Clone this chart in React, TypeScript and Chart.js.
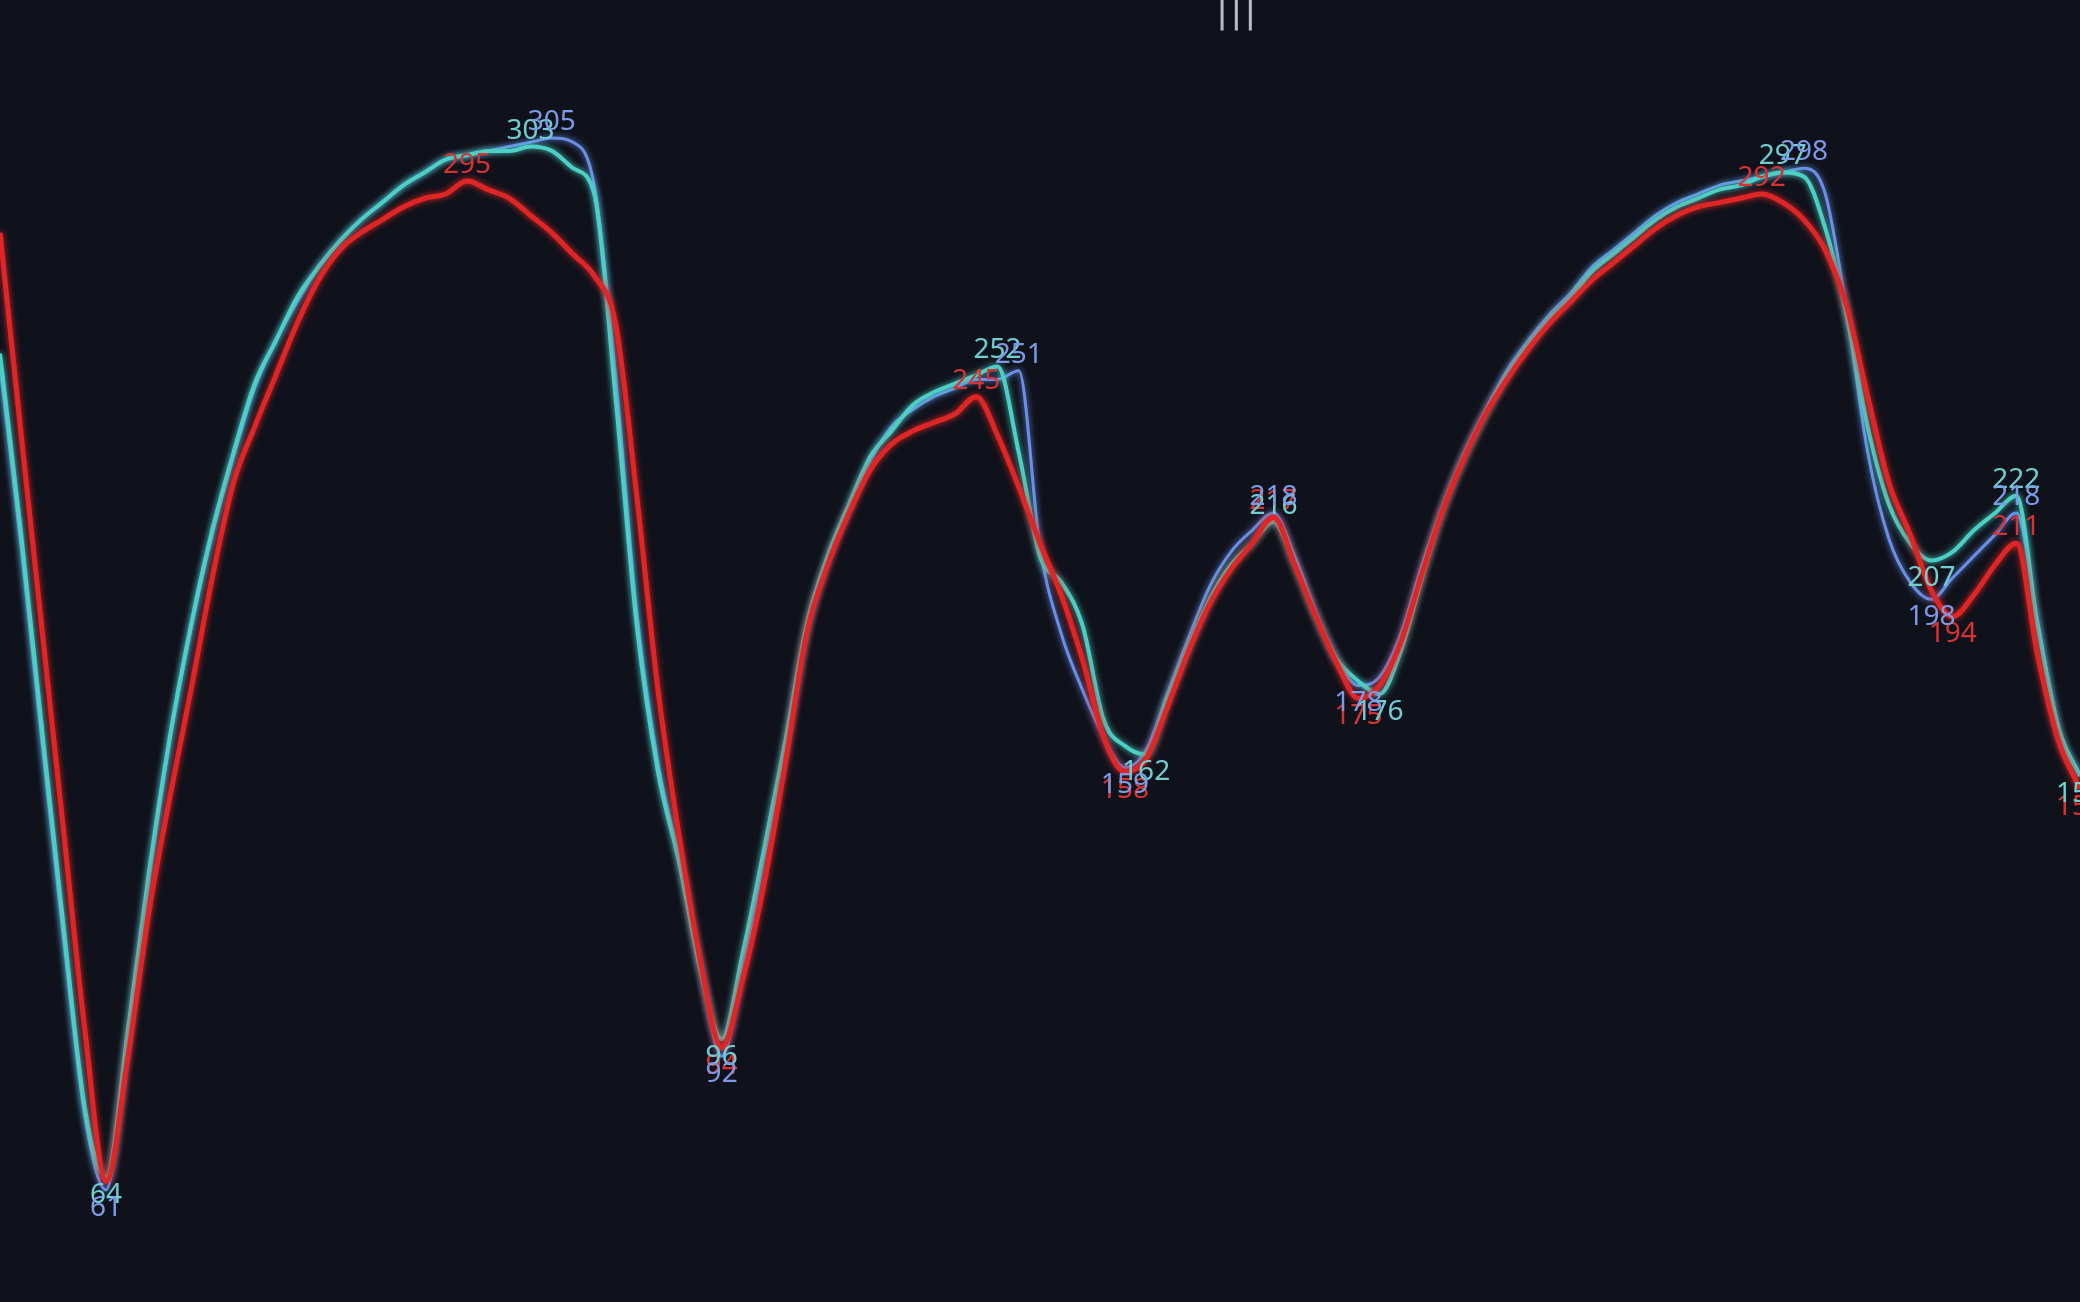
import React, { useEffect, useRef } from "react";
import { Chart, registerables } from "chart.js";

Chart.register(...registerables);

// sample index (time steps)
const steps: string[] = [
  "0","1","2","3","4","5","6","7","8","9","10","11","12","13","14","15","16","17","18","19",
  "20","21","22","23","24","25","26","27","28","29","30","31","32","33","34","35","36","37","38","39",
  "40","41","42","43","44","45","46","47","48","49","50","51","52","53","54","55","56","57","58","59",
  "60","61","62","63","64","65","66","67","68","69","70","71","72","73","74","75","76","77","78","79",
  "80","81","82","83","84","85","86","87","88","89","90","91","92","93","94","95","96","97","98",
];

const tealValues: number[] = [
  255, 213, 167, 122, 80, 64, 97, 134, 166, 192,
  214, 232, 248, 258, 268, 275, 281, 286, 290, 294,
  297, 300, 301, 302, 302, 303, 302, 298, 292, 245,
  192, 158, 137, 112, 96, 116, 140, 165, 192, 208,
  220, 231, 237, 243, 246, 248, 250, 252, 232, 208,
  202, 192, 170, 164, 162, 175, 187, 198, 206, 211,
  216, 206, 194, 184, 179, 176, 186, 203, 219, 231,
  241, 250, 257, 263, 268, 274, 278, 282, 286, 289,
  291, 293, 294, 296, 297, 296, 284, 264, 238, 220,
  211, 207, 209, 214, 218, 222, 192, 168, 157,
];

const blueValues: number[] = [
  252, 210, 164, 119, 78, 61, 95, 132, 165, 191,
  213, 231, 247, 258, 267, 275, 281, 286, 290, 294,
  297, 300, 301, 302, 303, 304, 305, 304, 294, 250,
  195, 160, 138, 113, 92, 112, 138, 163, 190, 207,
  219, 230, 238, 242, 245, 247, 249, 249, 251, 210,
  190, 177, 166, 159, 163, 176, 189, 201, 209, 214,
  218, 208, 195, 184, 178, 180, 190, 206, 220, 232,
  242, 251, 258, 264, 269, 275, 279, 283, 287, 290,
  292, 294, 295, 296, 297, 298, 292, 265, 232, 212,
  202, 198, 203, 208, 213, 218, 193, 167, 157,
];

const redValues: number[] = [
  283, 236, 190, 144, 98, 63, 91, 125, 152, 177,
  203, 225, 238, 250, 262, 272, 279, 283, 286, 289,
  291, 292, 295, 293, 291, 287, 283, 278, 273, 262,
  222, 177, 143, 114, 94, 110, 132, 160, 190, 206,
  218, 228, 234, 237, 239, 241, 245, 236, 224, 211,
  199, 184, 166, 158, 161, 173, 186, 197, 205, 211,
  217, 206, 194, 183, 175, 178, 188, 204, 219, 231,
  241, 249, 256, 262, 267, 272, 276, 280, 284, 287,
  289, 290, 291, 292, 290, 286, 279, 266, 245, 225,
  213, 200, 194, 199, 206, 211, 185, 165, 154,
];

// which samples carry a value label (peaks and troughs)
const tealLabelIdx: number[] = [5, 25, 34, 47, 54, 60, 65, 84, 91, 95, 98];
const blueLabelIdx: number[] = [5, 26, 34, 48, 53, 60, 64, 85, 91, 95];
const redLabelIdx: number[] = [22, 34, 46, 53, 60, 64, 83, 92, 95, 98];

const seriesNames: string[] = ["red", "teal", "blue"];

const labelPlugin = {
  id: "extremaLabels",
  afterDatasetsDraw(chart: any) {
    const ctx = chart.ctx;
    chart.data.datasets.forEach((ds: any, di: number) => {
      const meta = chart.getDatasetMeta(di);
      const idxs: number[] = ds.labelIdx || [];
      ctx.save();
      ctx.font = '28px "Noto Sans", "DejaVu Sans", sans-serif';
      ctx.fillStyle = ds.labelColor;
      ctx.textAlign = "center";
      idxs.forEach((i) => {
        const pt = meta.data[i];
        if (!pt) return;
        const v = ds.data[i];
        const prev = i > 0 ? ds.data[i - 1] : v;
        const next = i < ds.data.length - 1 ? ds.data[i + 1] : v;
        const isMax = v >= prev && v >= next;
        if (isMax) {
          ctx.textBaseline = "bottom";
          ctx.fillText(String(v), pt.x, pt.y - 2);
        } else {
          ctx.textBaseline = "top";
          ctx.fillText(String(v), pt.x, pt.y + 4);
        }
      });
      ctx.restore();
    });
  },
};

const glowPlugin = {
  id: "glow",
  beforeDatasetDraw(chart: any, args: any) {
    const ds = chart.data.datasets[args.index];
    chart.ctx.save();
    chart.ctx.shadowColor = ds.borderColor;
    chart.ctx.shadowBlur = 6;
  },
  afterDatasetDraw(chart: any) {
    chart.ctx.restore();
  },
};

export default function App() {
  const ref = useRef<HTMLCanvasElement | null>(null);

  useEffect(() => {
    document.body.style.margin = "0";
    document.body.style.background = "#10121b";
    const canvas = ref.current;
    if (!canvas) return;
    const chart = new Chart(canvas, {
      type: "line",
      data: {
        labels: steps,
        datasets: [
          {
            label: seriesNames[0],
            data: redValues,
            borderColor: "#df2626",
            borderWidth: 5,
            pointRadius: 0,
            cubicInterpolationMode: "monotone",
            labelIdx: redLabelIdx,
            labelColor: "#d83232",
          } as any,
          {
            label: seriesNames[1],
            data: tealValues,
            borderColor: "#4ccfc4",
            borderWidth: 4,
            pointRadius: 0,
            cubicInterpolationMode: "monotone",
            labelIdx: tealLabelIdx,
            labelColor: "#6fcfcf",
          } as any,
          {
            label: seriesNames[2],
            data: blueValues,
            borderColor: "#6a8fe6",
            borderWidth: 3,
            pointRadius: 0,
            cubicInterpolationMode: "monotone",
            labelIdx: blueLabelIdx,
            labelColor: "#7d9ae6",
          } as any,
        ],
      },
      options: {
        animation: false,
        responsive: true,
        maintainAspectRatio: false,
        devicePixelRatio: 1,
        layout: { padding: 0 },
        plugins: {
          legend: { display: false },
          tooltip: { enabled: false },
          title: { display: false },
        },
        scales: {
          x: { type: "category", display: false, offset: false },
          y: { type: "linear", display: false, min: 35, max: 337 },
        },
      },
      plugins: [glowPlugin, labelPlugin],
    });
    return () => chart.destroy();
  }, []);

  return (
    <div
      style={{
        position: "fixed",
        left: 0,
        top: 0,
        width: 2080,
        height: 1302,
        background: "#10121b",
        overflow: "hidden",
      }}
    >
      <canvas ref={ref} style={{ display: "block" }} />
      <div
        style={{
          position: "absolute",
          left: 1216,
          top: -10,
          color: "#b8bcc6",
          fontFamily: '"DejaVu Sans", sans-serif',
          fontSize: 36,
          letterSpacing: 2,
          lineHeight: "40px",
        }}
      >
        |||
      </div>
    </div>
  );
}
